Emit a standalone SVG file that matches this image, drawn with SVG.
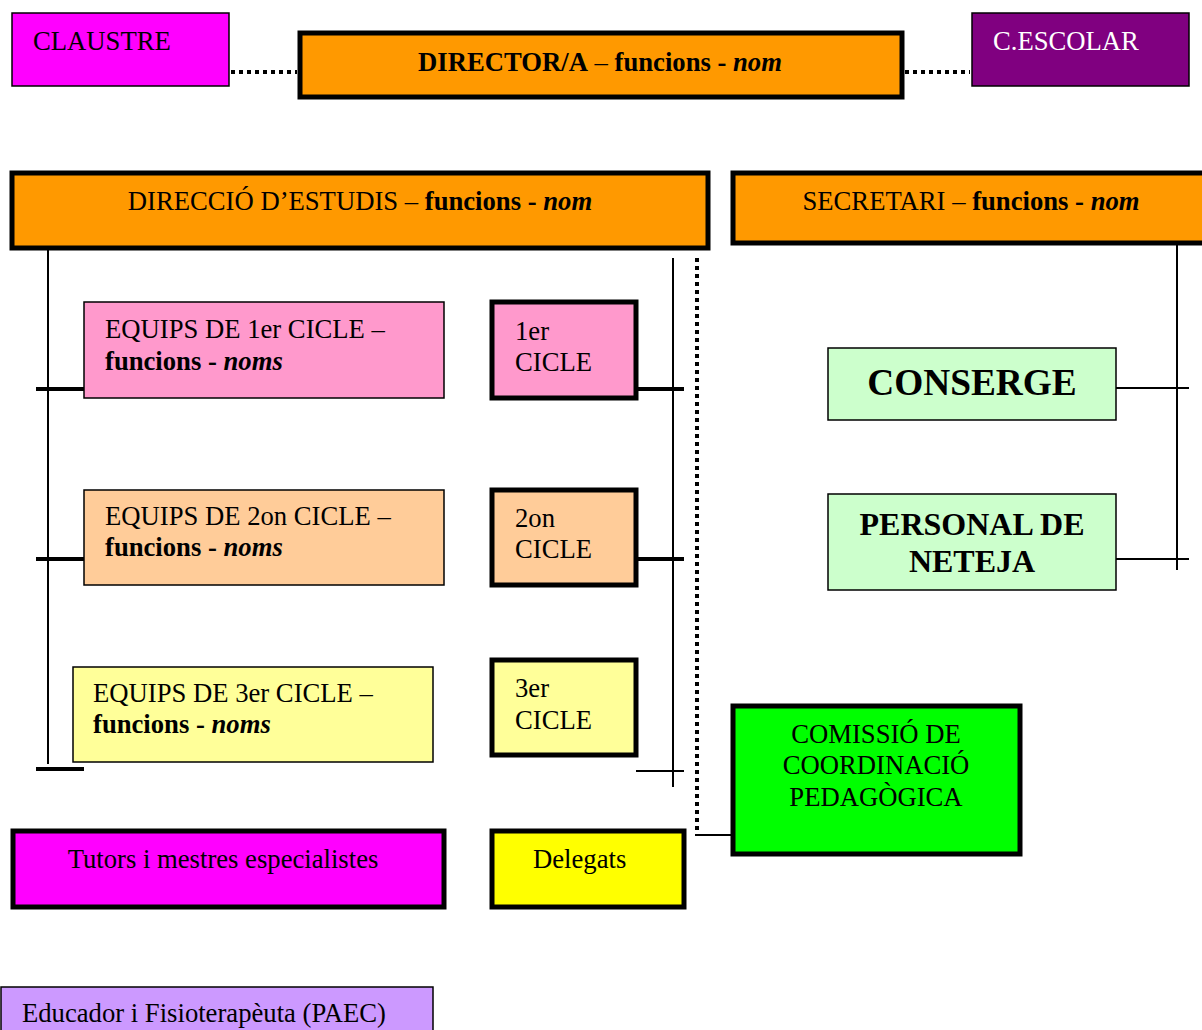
<svg xmlns="http://www.w3.org/2000/svg" width="1202" height="1030" viewBox="0 0 1202 1030">
<style>
text{font-family:"Liberation Serif","Times New Roman",serif;font-size:26.67px;fill:#000}
.b{font-weight:bold}
.bi{font-weight:bold;font-style:italic}
.thin{stroke:#000;stroke-width:1.5}
.thick{stroke:#000;stroke-width:5}
.ln{stroke:#000;stroke-width:2;fill:none}
.tk{stroke:#000;stroke-width:4;fill:none}
.dot{stroke:#000;stroke-width:4;stroke-dasharray:4 4;fill:none}
.c{text-anchor:middle}
</style>
<g id="connectors">
<line class="dot" x1="231" y1="72" x2="297" y2="72"/>
<line class="dot" x1="905" y1="72" x2="970" y2="72"/>
<line class="ln" x1="48" y1="234" x2="48" y2="764"/>
<line class="tk" x1="36" y1="389" x2="84" y2="389"/>
<line class="tk" x1="36" y1="559" x2="84" y2="559"/>
<line class="tk" x1="36" y1="769" x2="84" y2="769"/>
<line class="ln" x1="673" y1="258" x2="673" y2="787"/>
<line class="tk" x1="637" y1="389" x2="684" y2="389"/>
<line class="tk" x1="637" y1="559" x2="684" y2="559"/>
<line class="ln" x1="636" y1="771" x2="684" y2="771"/>
<line class="dot" x1="697" y1="258" x2="697" y2="831"/>
<line class="ln" x1="695" y1="835" x2="733" y2="835"/>
<line class="ln" x1="1177" y1="234" x2="1177" y2="570"/>
<line class="ln" x1="1116" y1="388" x2="1189" y2="388"/>
<line class="ln" x1="1116" y1="559" x2="1189" y2="559"/>
</g>
<g id="claustre">
<rect class="thin" x="12" y="13" width="217" height="73" fill="#FF00FF"/>
<text x="33" y="50">CLAUSTRE</text>
</g>
<g id="director">
<rect class="thick" x="300" y="33" width="602" height="64" fill="#FF9900"/>
<text x="600" y="71" class="c"><tspan class="b">DIRECTOR/A</tspan> – <tspan class="b">funcions - </tspan><tspan class="bi">nom</tspan></text>
</g>
<g id="cescolar">
<rect class="thin" x="972" y="13" width="217" height="73" fill="#800080"/>
<text x="993" y="50" style="fill:#fff">C.ESCOLAR</text>
</g>
<g id="direccio-estudis">
<rect class="thick" x="12" y="173" width="696" height="75" fill="#FF9900"/>
<text x="360" y="210" class="c">DIRECCIÓ D’ESTUDIS – <tspan class="b">funcions - </tspan><tspan class="bi">nom</tspan></text>
</g>
<g id="secretari">
<rect class="thick" x="733" y="173" width="480" height="70" fill="#FF9900"/>
<text x="971" y="210" class="c">SECRETARI – <tspan class="b">funcions - </tspan><tspan class="bi">nom</tspan></text>
</g>
<g id="equips1">
<rect class="thin" x="84" y="302" width="360" height="96" fill="#FF99CC"/>
<text x="105" y="338">EQUIPS DE 1er CICLE –</text>
<text x="105" y="370"><tspan class="b">funcions - </tspan><tspan class="bi">noms</tspan></text>
</g>
<g id="cicle1">
<rect class="thick" x="492" y="302" width="144" height="96" fill="#FF99CC"/>
<text x="515" y="340">1er</text>
<text x="515" y="371">CICLE</text>
</g>
<g id="equips2">
<rect class="thin" x="84" y="490" width="360" height="95" fill="#FFCC99"/>
<text x="105" y="525">EQUIPS DE 2on CICLE –</text>
<text x="105" y="556"><tspan class="b">funcions - </tspan><tspan class="bi">noms</tspan></text>
</g>
<g id="cicle2">
<rect class="thick" x="492" y="490" width="144" height="95" fill="#FFCC99"/>
<text x="515" y="527">2on</text>
<text x="515" y="558">CICLE</text>
</g>
<g id="equips3">
<rect class="thin" x="73" y="667" width="360" height="95" fill="#FFFF99"/>
<text x="93" y="702">EQUIPS DE 3er CICLE –</text>
<text x="93" y="733"><tspan class="b">funcions - </tspan><tspan class="bi">noms</tspan></text>
</g>
<g id="cicle3">
<rect class="thick" x="492" y="660" width="144" height="95" fill="#FFFF99"/>
<text x="515" y="697">3er</text>
<text x="515" y="729">CICLE</text>
</g>
<g id="conserge">
<rect class="thin" x="828" y="348" width="288" height="72" fill="#CCFFCC"/>
<text x="972" y="395" class="c b" style="font-size:37.33px">CONSERGE</text>
</g>
<g id="personal">
<rect class="thin" x="828" y="494" width="288" height="96" fill="#CCFFCC"/>
<text x="972" y="535" class="c b" style="font-size:32px">PERSONAL DE</text>
<text x="972" y="572" class="c b" style="font-size:32px">NETEJA</text>
</g>
<g id="comissio">
<rect class="thick" x="733" y="706" width="287" height="148" fill="#00FF00"/>
<text x="876" y="743" class="c">COMISSIÓ DE</text>
<text x="876" y="774" class="c">COORDINACIÓ</text>
<text x="876" y="806" class="c">PEDAGÒGICA</text>
</g>
<g id="tutors">
<rect class="thick" x="13" y="831" width="431" height="76" fill="#FF00FF"/>
<text x="223" y="868" class="c">Tutors i mestres especialistes</text>
</g>
<g id="delegats">
<rect class="thick" x="492" y="831" width="192" height="76" fill="#FFFF00"/>
<text x="533" y="868">Delegats</text>
</g>
<g id="educador">
<rect class="thin" x="1" y="987" width="432" height="60" fill="#CC99FF"/>
<text x="22" y="1022">Educador i Fisioterapèuta (PAEC)</text>
</g>
</svg>
